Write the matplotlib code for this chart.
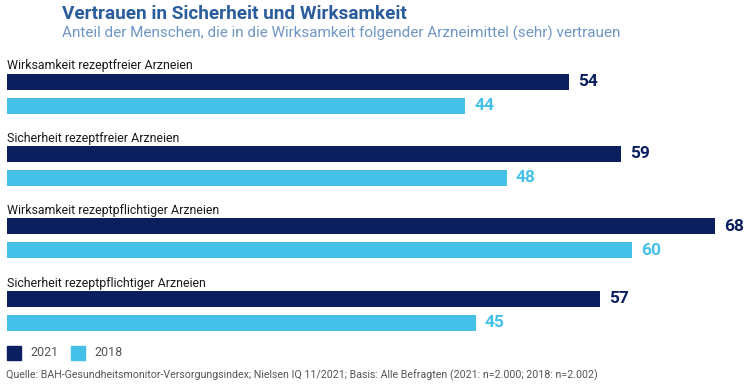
import numpy as np
import matplotlib
matplotlib.use('Agg')
import matplotlib.pyplot as plt
from matplotlib.patches import Rectangle

# data ---------------------------------------------------------------------
categories = ['Wirksamkeit rezeptfreier Arzneien',
              'Sicherheit rezeptfreier Arzneien',
              'Wirksamkeit rezeptpflichtiger Arzneien',
              'Sicherheit rezeptpflichtiger Arzneien']
values_2021 = [54, 59, 68, 57]
values_2018 = [44, 48, 60, 45]
series_names = ['2021', '2018']

# style --------------------------------------------------------------------
dark = '#0b1f5e'
light = '#45c1e9'
title_col = '#2b5c9c'
sub_col = '#6f96c4'
W, H = 750, 386

plt.rcParams['font.family'] = ['Roboto', 'DejaVu Sans']
fig = plt.figure(figsize=(W / 100, H / 100), dpi=100)
fig.patch.set_facecolor('white')

# axes: x from pixel 7 (0) to pixel 715 (68), y in pixel units (top = 0)
ax = fig.add_axes([7 / W, 0, 708 / W, 1])
ax.set_xlim(0, 68)
ax.set_ylim(H, 0)
ax.axis('off')

step = 72.4
idx = np.arange(len(categories))
y_dark = 81.5 + idx * step
y_light = 105.5 + idx * step
y_lab = 66 + idx * step
bh = 16

ax.barh(y_dark, values_2021, height=bh, color=dark)
ax.barh(y_light, values_2018, height=bh, color=light)

px = 68 / 708.0
for i in idx:
    ax.text(0, y_lab[i], categories[i], fontsize=8.9, color='#1a1a1a',
            va='center', ha='left')
    ax.text(values_2021[i] + 9 * px, y_dark[i], str(values_2021[i]), fontsize=12.5,
            fontweight='bold', color=dark, va='center', ha='left')
    ax.text(values_2018[i] + 9 * px, y_light[i], str(values_2018[i]), fontsize=12.5,
            fontweight='bold', color=light, va='center', ha='left')

# title ----------------------------------------------------------------------
fig.text(62 / W, 1 - 14 / H, 'Vertrauen in Sicherheit und Wirksamkeit',
         fontsize=13.7, fontweight='bold', color=title_col, va='center', ha='left')
fig.text(62 / W, 1 - 33 / H,
         'Anteil der Menschen, die in die Wirksamkeit folgender Arzneimittel (sehr) vertrauen',
         fontsize=11, color=sub_col, va='center', ha='left')

# legend ---------------------------------------------------------------------
for k, (name, col) in enumerate(zip(series_names, [dark, light])):
    x0 = 7 + k * 64
    fig.patches.append(Rectangle((x0 / W, 1 - 360 / H), 14 / W, 14 / H,
                                 transform=fig.transFigure, color=col))
    fig.text((x0 + 23) / W, 1 - 353 / H, name, fontsize=9,
             color='#555555', va='center', ha='left')

fig.text(6 / W, 1 - 375 / H,
         'Quelle: BAH-Gesundheitsmonitor-Versorgungsindex; Nielsen IQ 11/2021; '
         'Basis: Alle Befragten (2021: n=2.000; 2018: n=2.002)',
         fontsize=7.7, color='#555555', va='center', ha='left')

fig.savefig('out.png', dpi=100)
